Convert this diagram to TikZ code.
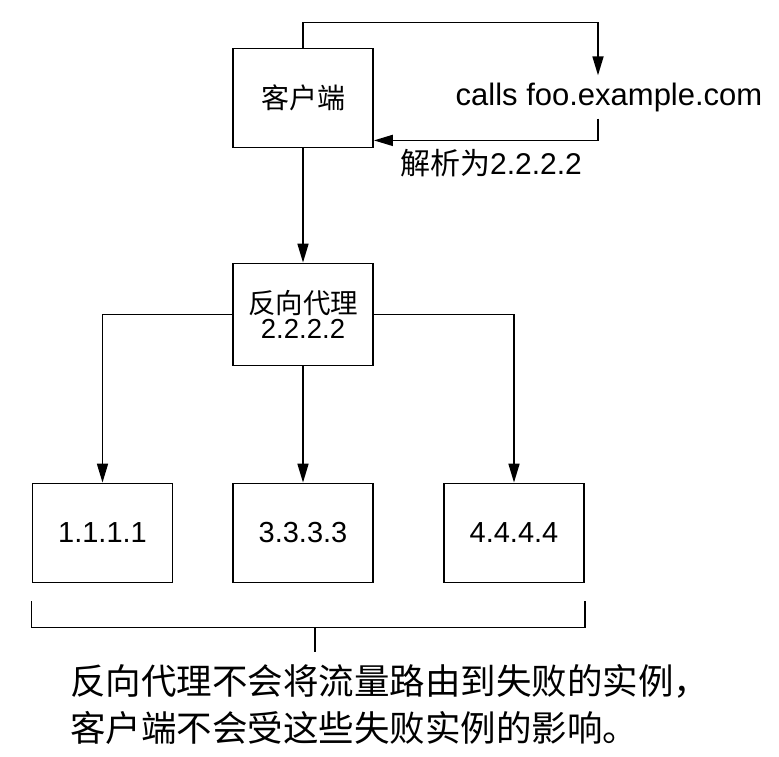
\documentclass[tikz,border=0pt]{standalone}
\usepackage{fontspec}
\setmainfont{Liberation Sans}
\newfontfamily\cjk{Noto Sans CJK SC}
\usetikzlibrary{arrows.meta}

\begin{document}
\begin{tikzpicture}[x=1pt,y=-1pt,
    box/.style={draw, line width=1.8pt, minimum width=140pt, minimum height=99pt, inner sep=0pt},
    arr/.style={line width=1.7pt, -{Triangle[length=19pt,width=11pt]}}]
    \useasboundingbox (0,0) rectangle (779,756);
    % client and name lookup
    \node[box, font=\fontsize{28}{30}\selectfont\cjk] (client) at (303,98) {客户端};
    \node[inner sep=7pt, anchor=base, font=\fontsize{31}{32}\selectfont] (calls) at (609,105) {calls foo.example.com};
    \node[font=\fontsize{30}{32}\selectfont] (resolve) at (491,163) {{\cjk 解析为}2.2.2.2};
    \draw[arr] (client.north) -- ++(0,-25) -| ([xshift=-11pt]calls.north);
    \draw[arr] ([xshift=-11pt]calls.south) |- ([yshift=8pt]client.south east);
    % proxy and instances
    \node[box, minimum height=102pt, align=center, font=\fontsize{27.5}{24.5}\selectfont] (proxy) at (303,314.5) {{\cjk 反向代理}\\2.2.2.2};
    \node[box, font=\fontsize{29}{30}\selectfont] (ip1) at (102.5,533) {1.1.1.1};
    \node[box, font=\fontsize{29}{30}\selectfont] (ip3) at (303,533) {3.3.3.3};
    \node[box, font=\fontsize{29}{30}\selectfont] (ip4) at (514,533) {4.4.4.4};
    \draw[arr] (client.south) -- (proxy.north);
    \draw[arr] (proxy.west) -| (ip1.north);
    \draw[arr] (proxy.south) -- (ip3.north);
    \draw[arr] (proxy.east) -| (ip4.north);
    % bracket and note
    \draw[line width=1.7pt] ([yshift=-18pt]ip1.south west) -- ++(0,26) coordinate (bl) -| ([yshift=-18pt]ip4.south east);
    \coordinate (tick) at (315,627);
    \node[inner sep=0pt, anchor=north west, align=left, font=\fontsize{35.5}{47}\selectfont\cjk] (note) at (70,664)
        {反向代理不会将流量路由到失败的实例，\\客户端不会受这些失败实例的影响。};
    \draw[line width=1.7pt] (tick) -- ++(0,25);
\end{tikzpicture}
\end{document}
